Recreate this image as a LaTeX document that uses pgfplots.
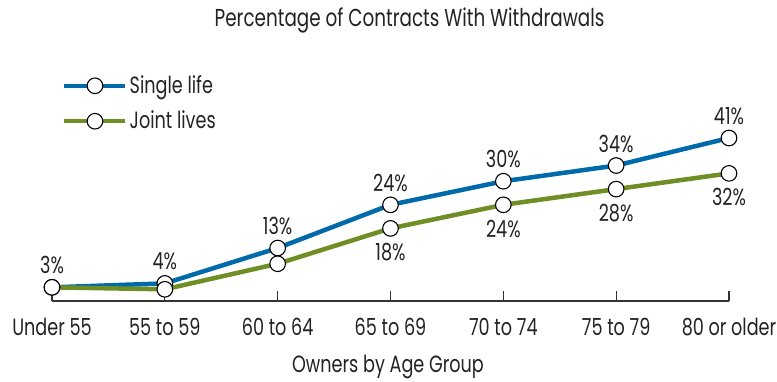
\documentclass[border=0pt]{standalone}
\usepackage{fontspec}
\setmainfont{Poppins}[FakeStretch=0.75]
\usepackage{pgfplots}
\pgfplotsset{compat=1.18}
\definecolor{sblue}{RGB}{0,106,170}
\definecolor{jgreen}{RGB}{112,142,38}
\definecolor{axgray}{RGB}{51,51,51}
\definecolor{txt}{RGB}{35,35,35}
\newcommand{\lblfont}{\fontsize{23.5}{27}\selectfont}
\begin{document}
\lblfont
\begin{tikzpicture}
\useasboundingbox (-52pt,-81.3pt) rectangle (725pt,300.7pt);
\begin{axis}[
  scale only axis, width=677pt, height=178.4pt,
  xmin=0, xmax=6, ymin=-0.4, ymax=45,
  axis x line*=bottom, axis y line=none,
  clip=false,
  xtick={0,1,2,3,4,5,6},
  xticklabels={Under 55,55 to 59,60 to 64,65 to 69,70 to 74,75 to 79,80 or older},
  xticklabel style={anchor=base, yshift=-35pt, text=txt, font=\lblfont},
  tick align=inside, major tick length=10pt,
  x axis line style={line width=2pt, color=axgray},
  xtick style={line width=1.3pt, color=axgray},
  ytick=\empty,
  every axis plot/.append style={line width=4.5pt, mark=*, mark size=7.8pt,
     mark options={fill=white, draw=black, line width=1.1pt}},
  point meta=explicit symbolic,
  legend style={draw=none, fill=none, inner sep=0pt, row sep=10pt,
     at={(axis description cs:0.0148,1.1054)}, anchor=west,
     font=\lblfont, text=txt},
  legend cell align=left,
  legend image code/.code={
     \draw[#1,mark=none] (0pt,0pt) -- (61pt,0pt);
     \draw[#1,only marks] plot coordinates {(30.5pt,0pt)};
  },
]
\addplot[color=sblue, nodes near coords,
  every node near coord/.append style={anchor=center, yshift=22pt, text=txt,
     font=\lblfont}]
  coordinates {(0,3) [3\%] (1,4) [4\%] (2,13) [13\%] (3,24) [24\%] (4,30) [30\%] (5,34) [34\%] (6,41) [41\%]};
\addlegendentry{Single life}
\addplot[color=jgreen, nodes near coords,
  every node near coord/.append style={anchor=center, yshift=-24pt, text=txt,
     font=\lblfont}]
  coordinates {(0,3) [] (1,2.5) [] (2,9) [] (3,18) [18\%] (4,24) [24\%] (5,28) [28\%] (6,32) [32\%]};
\addlegendentry{Joint lives}
\end{axis}
\node[anchor=base, text=txt, font=\fontsize{24.5}{28}\selectfont] at (357.5pt,273.7pt) {Percentage of Contracts With Withdrawals};
\node[anchor=base, text=txt] at (336pt,-72pt) {Owners by Age Group};
\end{tikzpicture}
\end{document}
